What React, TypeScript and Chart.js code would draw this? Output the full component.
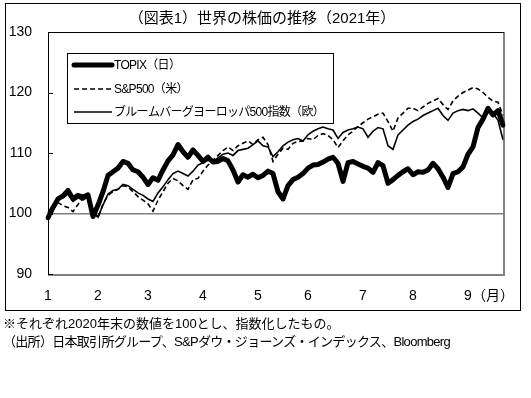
import React, { useEffect, useRef } from "react";
import { Chart, registerables } from "chart.js";

Chart.register(...registerables);

const titleText = "（図表1）世界の株価の推移（2021年）";
const note1 = "※それぞれ2020年末の数値を100とし、指数化したもの。";
const note2 = "（出所）日本取引所グループ、S&Pダウ・ジョーンズ・インデックス、Bloomberg";

const seriesNames = ["TOPIX（日）", "S&P500（米）", "ブルームバーグヨーロッパ500指数（欧）"];

const monthLabels = ["1", "2", "3", "4", "5", "6", "7", "8", "9", "（月）"];
const monthStartIndex = [0, 10, 20, 31, 42, 52, 63, 73, 84, 89];

const yTicks = [90, 100, 110, 120, 130];
const baseLine = 100;

const topix = [
  99.3, 101.0, 102.4, 102.9, 103.8, 102.4, 103.0, 102.7, 103.1, 99.5,
  101.4, 103.6, 106.3, 106.9, 107.5, 108.6, 108.3, 107.2, 106.9, 106.0,
  104.8, 105.9, 105.5, 107.2, 108.7, 109.7, 111.4, 110.2, 109.3, 110.5,
  109.6, 108.6, 109.3, 108.5, 108.6, 109.1, 108.7, 107.2, 105.2, 106.4,
  106.0, 106.5, 105.9, 106.3, 107.0, 106.6, 103.6, 102.4, 104.6, 105.6,
  106.0, 106.6, 107.5, 108.0, 108.1, 108.5, 109.0, 109.3, 108.3, 105.3,
  108.4, 108.6, 108.2, 107.8, 107.5, 106.8, 108.4, 107.9, 105.0, 105.6,
  106.3, 106.9, 107.4, 106.4, 106.9, 106.8, 107.2, 108.3, 107.4, 106.0,
  104.3, 106.6, 106.9, 107.7, 109.8, 111.0, 114.2, 115.6, 117.4, 116.3,
  117.0, 114.6,
];

const sp500 = [
  99.6, 100.6, 101.8, 101.3, 101.0, 100.3, 101.5, 102.6, 102.4, 100.0,
  99.3, 101.6, 103.0, 103.6, 104.0, 104.6, 104.4, 103.6, 102.8, 102.2,
  101.6, 100.4, 102.2, 103.6, 105.0, 105.8, 105.4, 104.6, 104.0, 105.6,
  105.8, 107.0, 108.0, 108.8, 109.6, 110.4, 111.0, 110.4, 111.2, 111.6,
  112.0, 111.4, 112.2, 112.6, 111.4, 108.6, 109.8, 110.8, 110.6, 111.6,
  111.9, 112.0, 112.4, 112.2, 112.9, 113.2, 112.9, 112.2, 110.9, 112.0,
  113.0, 113.6, 114.4, 115.0, 115.6, 116.0, 116.4, 116.6, 115.2, 113.6,
  115.8, 116.6, 117.4, 117.4, 117.0, 117.6, 118.2, 118.6, 119.0, 118.0,
  117.2, 118.6, 119.4, 120.0, 120.4, 120.8, 120.6, 120.0, 119.2, 118.6,
  118.4, 116.2,
];

const europe = [
  100.2, 101.2, 102.4, 102.6, 103.2, 102.0, 102.6, 102.2, 102.8, 100.6,
  99.4, 101.4, 103.2, 103.8, 104.0, 104.8, 104.6, 104.0, 103.4, 103.0,
  102.4, 102.0, 103.4, 104.4, 105.6, 106.6, 107.0, 106.6, 106.2, 107.0,
  108.0, 108.4, 108.8, 108.6, 109.2, 109.8, 110.0, 109.6, 110.4, 110.6,
  110.8, 111.4, 112.0, 111.2, 111.0, 109.4, 110.2, 111.2, 111.8, 112.2,
  112.4, 112.0, 113.0, 113.6, 114.0, 114.3, 114.0, 113.8, 112.4, 113.4,
  113.8, 114.0, 114.3, 114.0, 112.6, 113.6, 114.2, 114.0, 111.2, 110.6,
  113.0, 113.8, 114.6, 115.2, 115.6, 116.2, 116.6, 117.0, 117.4, 116.2,
  115.4, 116.6, 117.0, 117.2, 117.0, 117.3, 116.6, 115.8, 117.2, 116.6,
  115.4, 112.2,
];

const categories = topix.map((_, i) => {
  const m = monthStartIndex.indexOf(i);
  return m >= 0 ? monthLabels[m] : "";
});

const LATIN = "'Liberation Sans', Arial, 'Noto Sans CJK JP', sans-serif";
const JP = "'Liberation Sans', 'Noto Sans CJK JP', sans-serif";

const framePlugin = {
  id: "frame",
  beforeDraw(chart: any) {
    const ctx = chart.ctx;
    ctx.save();
    ctx.fillStyle = "#fff";
    ctx.fillRect(0, 0, chart.width, chart.height);
    ctx.strokeStyle = "#000";
    ctx.lineWidth = 1;
    ctx.strokeRect(5.5, 3.5, 515, 307);
    ctx.fillStyle = "#000";
    ctx.font = "15px " + JP;
    ctx.textAlign = "center";
    ctx.textBaseline = "middle";
    ctx.fillText(titleText, 262, 19);
    ctx.restore();
  },
  beforeDatasetsDraw(chart: any) {
    const ctx = chart.ctx;
    const a = chart.chartArea;
    const y = chart.scales.y;
    ctx.save();
    ctx.strokeStyle = "#808080";
    ctx.lineWidth = 2;
    ctx.beginPath();
    ctx.moveTo(a.right + 1, a.top);
    ctx.lineTo(a.right + 1, a.bottom + 1);
    ctx.lineTo(a.left, a.bottom + 1);
    ctx.stroke();
    ctx.strokeStyle = "#000";
    ctx.lineWidth = 1;
    ctx.beginPath();
    ctx.moveTo(a.left + 0.5, a.bottom);
    ctx.lineTo(a.left + 0.5, a.top + 0.5);
    ctx.lineTo(a.right + 1, a.top + 0.5);
    ctx.stroke();
    ctx.beginPath();
    yTicks.forEach((v) => {
      const py = Math.round(y.getPixelForValue(v)) + 0.5;
      ctx.moveTo(a.left, py);
      ctx.lineTo(a.left + 5, py);
    });
    ctx.stroke();
    ctx.restore();
  },
  afterDraw(chart: any) {
    const ctx = chart.ctx;
    const ds = chart.data.datasets;
    ctx.save();
    ctx.fillStyle = "#fff";
    ctx.fillRect(67.5, 53.5, 266, 70);
    ctx.strokeStyle = "#000";
    ctx.lineWidth = 1;
    ctx.strokeRect(67.5, 53.5, 266, 70);
    const rows = [65, 89, 112];
    ds.forEach((d: any, i: number) => {
      const ry = rows[i];
      ctx.strokeStyle = d.borderColor;
      ctx.lineWidth = d.borderWidth;
      ctx.setLineDash(d.borderDash || []);
      ctx.lineCap = d.borderWidth > 3 ? "round" : "butt";
      ctx.beginPath();
      ctx.moveTo(74, ry);
      ctx.lineTo(112, ry);
      ctx.stroke();
      ctx.setLineDash([]);
      ctx.fillStyle = "#000";
      ctx.font = "12px " + JP;
      try {
        (ctx as any).letterSpacing = "-0.7px";
      } catch (e) {}
      ctx.textAlign = "left";
      ctx.textBaseline = "middle";
      ctx.fillText(d.label, 114, ry + 1);
      try {
        (ctx as any).letterSpacing = "0px";
      } catch (e) {}
    });
    ctx.restore();
  },
};

export default function App() {
  const ref = useRef<HTMLCanvasElement | null>(null);

  useEffect(() => {
    if (!ref.current) return;
    const chart = new Chart(ref.current, {
      type: "line",
      data: {
        labels: categories,
        datasets: [
          {
            label: seriesNames[0],
            data: topix,
            borderColor: "#000",
            borderWidth: 5,
            pointRadius: 0,
            borderJoinStyle: "round",
            borderCapStyle: "round",
            tension: 0,
          },
          {
            label: seriesNames[1],
            data: sp500,
            borderColor: "#000",
            borderWidth: 1.6,
            borderDash: [5, 3],
            pointRadius: 0,
            tension: 0,
          },
          {
            label: seriesNames[2],
            data: europe,
            borderColor: "#000",
            borderWidth: 1.6,
            pointRadius: 0,
            tension: 0,
          },
        ],
      },
      options: {
        responsive: false,
        animation: false,
        layout: { padding: { left: 0, top: 32, right: 28, bottom: 398 - 274 - 30 } },
        plugins: {
          legend: { display: false },
          title: { display: false },
          tooltip: { enabled: false },
        },
        scales: {
          x: {
            type: "category",
            offset: false,
            grid: { display: false, drawTicks: false },
            border: { display: false },
            ticks: {
              autoSkip: false,
              maxRotation: 0,
              minRotation: 0,
              padding: 14,
              color: "#000",
              font: { size: 14, family: JP },
              callback: (_v: any, i: number) => categories[i],
            },
            afterFit: (s: any) => {
              s.height = 30;
            },
          },
          y: {
            min: 90,
            max: 130,
            afterBuildTicks: (s: any) => {
              s.ticks = yTicks.map((v) => ({ value: v }));
            },
            grid: {
              drawTicks: false,
              lineWidth: 1.5,
              color: (c: any) =>
                c.tick && c.tick.value === baseLine ? "#808080" : "rgba(0,0,0,0)",
            },
            border: { display: false },
            ticks: {
              padding: 16,
              color: "#000",
              font: { size: 14, family: LATIN },
            },
            afterFit: (s: any) => {
              s.width = 48;
            },
          },
        },
      },
      plugins: [framePlugin],
    });
    return () => chart.destroy();
  }, []);

  const noteStyle: React.CSSProperties = {
    position: "absolute",
    left: 3,
    font: "13px " + JP,
    lineHeight: "16px",
    whiteSpace: "nowrap",
    color: "#000",
  };

  return (
    <div
      style={{
        position: "absolute",
        left: 0,
        top: 0,
        width: 531,
        height: 398,
        background: "#fff",
        overflow: "hidden",
      }}
    >
      <canvas
        ref={ref}
        width={531}
        height={398}
        style={{ position: "absolute", left: 0, top: 0 }}
      />
      <div style={{ ...noteStyle, top: 316 }}>{note1}</div>
      <div style={{ ...noteStyle, top: 334, letterSpacing: "-0.7px" }}>{note2}</div>
    </div>
  );
}
